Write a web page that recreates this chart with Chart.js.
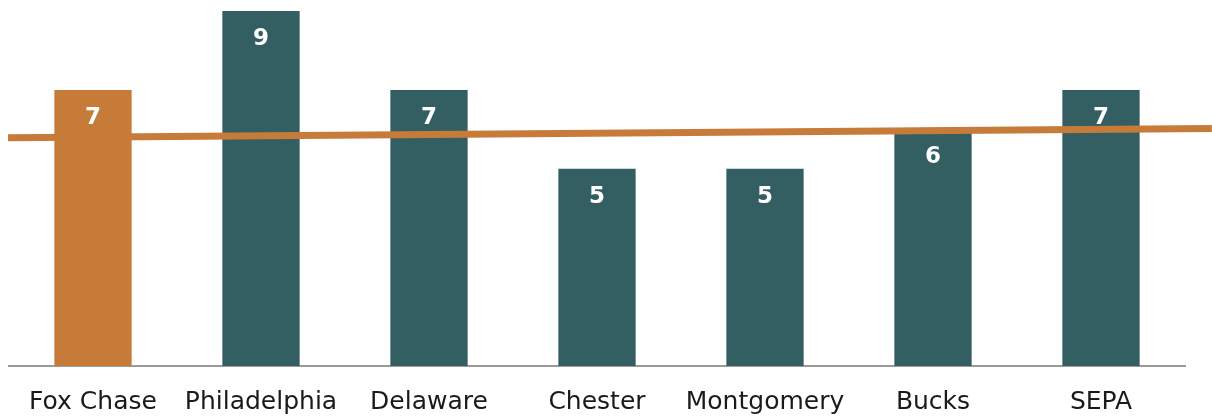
<!DOCTYPE html>
<html>
<head>
<meta charset="utf-8">
<script src="https://cdn.jsdelivr.net/npm/chart.js@4"></script>
<style>
  html, body { margin: 0; padding: 0; background: #fff; }
  #wrap { width: 1212px; height: 416px; }
</style>
</head>
<body>
<div id="wrap"><canvas id="countyChart" width="1212" height="416"></canvas></div>
<script>
const regions = ['Fox Chase', 'Philadelphia', 'Delaware', 'Chester', 'Montgomery', 'Bucks', 'SEPA']
const counts = [7, 9, 7, 5, 5, 6, 7]
// straight reference line, read at its two ends
const refLineX = [-0.506, 6.66]
const refLineY = [5.79, 6.02]

const ORANGE = '#C67C38'
const TEAL = '#335F63'

const barLabels = {
  id: 'barLabels',
  afterDatasetDraw(chart, args) {
    if (args.index !== 0) return
    const ctx = chart.ctx
    ctx.save()
    ctx.fillStyle = '#ffffff'
    ctx.font = 'bold 23px "DejaVu Sans", sans-serif'
    ctx.textAlign = 'center'
    ctx.textBaseline = 'middle'
    args.meta.data.forEach((bar, i) => {
      ctx.fillText(String(counts[i]), bar.x, bar.y + 28)
    })
    ctx.restore()
  },
}

new Chart(document.getElementById('countyChart').getContext('2d'), {
  data: {
    labels: regions,
    datasets: [
      {
        type: 'bar',
        data: counts,
        backgroundColor: regions.map((r, i) => (i === 0 ? ORANGE : TEAL)),
        barPercentage: 0.46,
        categoryPercentage: 1,
        grouped: false,
        order: 1,
      },
      {
        type: 'line',
        xAxisID: 'x2',
        data: refLineX.map((x, i) => ({ x, y: refLineY[i] })),
        borderColor: ORANGE,
        borderWidth: 7,
        pointRadius: 0,
        clip: false,
        order: 0,
      },
    ],
  },
  options: {
    responsive: false,
    animation: false,
    layout: { padding: { left: 9, right: 27, top: 0, bottom: -22 } },
    plugins: { legend: { display: false }, tooltip: { enabled: false } },
    scales: {
      y: { display: false, min: 0, max: 9.28 },
      x: {
        grid: { display: false, drawTicks: false },
        border: { color: '#9a9a9a', width: 2 },
        ticks: {
          color: '#1a1a1a',
          padding: 21,
          font: { family: '"DejaVu Sans", sans-serif', size: 25 },
        },
      },
      x2: { type: 'linear', display: false, min: -0.5, max: 6.5 },
    },
  },
  plugins: [barLabels],
})
</script>
</body>
</html>
